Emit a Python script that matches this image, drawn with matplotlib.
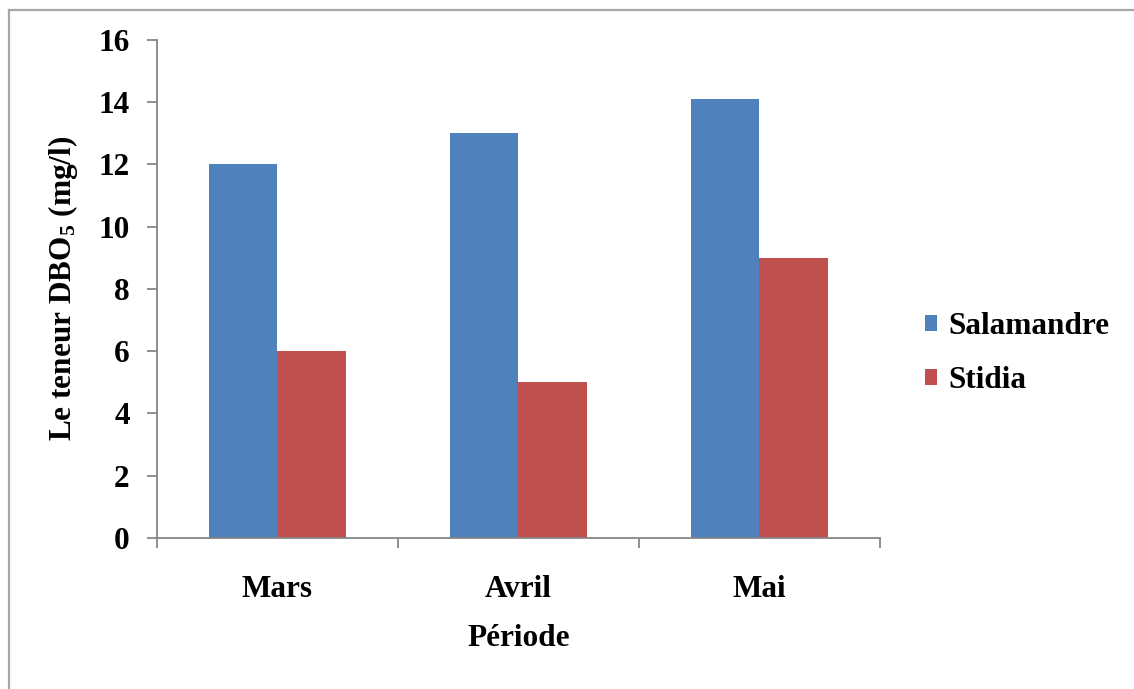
import numpy as np
import matplotlib
matplotlib.use("Agg")
import matplotlib.pyplot as plt
from matplotlib.lines import Line2D

plt.rcParams['font.family'] = ['Liberation Serif', 'DejaVu Serif']
plt.rcParams['font.weight'] = 'bold'
plt.rcParams['axes.labelweight'] = 'bold'
plt.rcParams['mathtext.fontset'] = 'custom'
plt.rcParams['mathtext.rm'] = 'Liberation Serif:bold'
plt.rcParams['mathtext.it'] = 'Liberation Serif:italic:bold'
plt.rcParams['mathtext.bf'] = 'Liberation Serif:bold'

# teneur en DBO5 par mois et par site
periodes = ['Mars', 'Avril', 'Mai']
salamandre = [12, 13, 14.1]
stidia = [6, 5, 9]

c_bleu = '#4F81BD'
c_rouge = '#C0504D'
c_axe = '#868686'
fs = 22.5

fig = plt.figure(figsize=(11.34, 6.89), dpi=100)
ax = fig.add_axes([0.1384, 0.2192, 0.6376, 0.7228])

x = np.arange(len(periodes))
w = 1 / 3.5
ax.bar(x - w / 2, salamandre, w, color=c_bleu, label='Salamandre')
ax.bar(x + w / 2, stidia, w, color=c_rouge, label='Stidia')

ax.set_xlim(-0.5, len(periodes) - 0.5)
ax.set_ylim(0, 16)
ax.set_yticks(range(0, 17, 2))

# ticks de separation entre categories, labels au centre
ax.set_xticks(np.arange(-0.5, len(periodes), 1))
ax.set_xticklabels([])
ax.set_xticks(x, minor=True)
ax.set_xticklabels(periodes, minor=True)
ax.tick_params(axis='x', which='major', direction='out', length=7.5,
               width=1.3, color=c_axe)
ax.tick_params(axis='x', which='minor', length=0, pad=27, labelsize=fs)
ax.tick_params(axis='y', direction='out', length=7.5, width=1.3,
               color=c_axe, pad=12, labelsize=fs)

for s in ['top', 'right']:
    ax.spines[s].set_visible(False)
for s in ['left', 'bottom']:
    ax.spines[s].set_color(c_axe)
    ax.spines[s].set_linewidth(1.3)

ax.set_xlabel('Période', fontsize=fs, labelpad=14)
ax.set_ylabel(r'Le teneur DBO$_{\mathrm{5}}$ (mg/l)', fontsize=fs, labelpad=13)

ax.legend(loc='center left', bbox_to_anchor=(1.023, 0.37), frameon=False,
          fontsize=fs, handlelength=0.4, handleheight=0.4,
          handletextpad=0.35, labelspacing=0.8)

# cadre de la zone graphique (haut et gauche)
fig.add_artist(Line2D([9 / 1134, 9 / 1134], [0, 1 - 10 / 689],
                      transform=fig.transFigure, color='#a6a6a6', lw=1.6))
fig.add_artist(Line2D([9 / 1134, 1], [1 - 10 / 689, 1 - 10 / 689],
                      transform=fig.transFigure, color='#a6a6a6', lw=1.6))

fig.savefig('out.png', dpi=100)
